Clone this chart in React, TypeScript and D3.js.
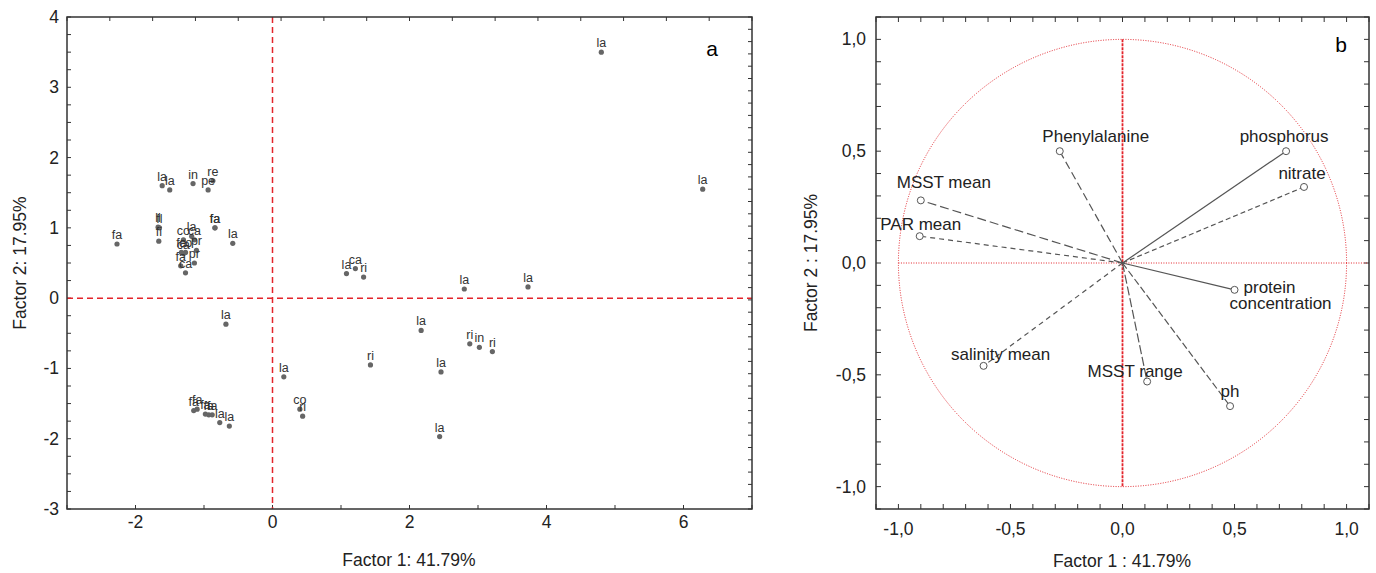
import React, { useEffect, useRef } from "react";
import * as d3 from "d3";

// panel a: case scores
const caseLabels = ["la","la","in","pe","re","li","fl","fi","fa","fa","fa","la",
  "la","co","ca","co","fa","ca","pr","pr","fa","ca",
  "la","la","co","ri","fa","fa","fa","fa","fa","la","la",
  "la","ca","ri","la","la","la","ri","in","ri","ri","la","la","la","la"];
const caseX = [-1.61,-1.50,-1.16,-0.94,-0.87,-1.67,-1.65,-1.66,-2.27,-0.84,-0.84,-0.58,
  -1.18,-1.30,-1.14,-1.27,-1.33,-1.30,-1.11,-1.14,-1.34,-1.27,
  -0.68,0.165,0.40,0.44,-1.15,-1.10,-0.98,-0.93,-0.88,-0.77,-0.63,
  1.08,1.21,1.33,2.80,3.73,2.17,2.88,3.02,3.21,1.43,2.46,2.44,4.80,6.28];
const caseY = [1.60,1.54,1.63,1.54,1.67,1.01,1.00,0.81,0.77,1.00,1.00,0.78,
  0.88,0.83,0.83,0.65,0.65,0.63,0.68,0.50,0.46,0.36,
  -0.37,-1.12,-1.58,-1.68,-1.60,-1.58,-1.65,-1.66,-1.66,-1.77,-1.82,
  0.35,0.42,0.30,0.13,0.16,-0.46,-0.65,-0.70,-0.76,-0.95,-1.05,-1.97,3.50,1.55];

// panel b: variable loadings
const varNames = ["Phenylalanine","phosphorus","nitrate","MSST mean","PAR mean",
  "protein\nconcentration","salinity mean","MSST range","ph"];
const varX = [-0.28,0.73,0.81,-0.90,-0.905,0.50,-0.62,0.11,0.48];
const varY = [0.50,0.50,0.34,0.28,0.12,-0.12,-0.46,-0.53,-0.64];

const xTicksA = [-2,0,2,4,6];
const yTicksA = [-3,-2,-1,0,1,2,3,4];
const ticksB = [-1,-0.5,0,0.5,1];

// label placement / line style for panel b (pixels)
const varLabelPos = [[39,-9],[1,-9],[1,-8],[26,-12],[4,-6],[38,3],[20,-6],[-9,-5],[3,-9]];
const varDash = ["8,4","","5,3","9,4","5,4","","5,4","9,3","7,3"];

const FONT = "'Liberation Sans', Arial, sans-serif";
const RED = "#e3242b";

export default function App() {
  const ref = useRef<SVGSVGElement>(null);

  useEffect(() => {
    const svg = d3.select(ref.current);
    svg.selectAll("*").remove();

    // ---------- panel a ----------
    const x = d3.scaleLinear().domain([-3, 7]).range([67, 752]);
    const y = d3.scaleLinear().domain([-3, 4]).range([509, 17]);
    const ga = svg.append("g");

    // ticks (inward)
    const tick = (g, x1, y1, x2, y2) =>
      g.append("line").attr("x1", x1).attr("y1", y1).attr("x2", x2).attr("y2", y2)
        .attr("stroke", "#333").attr("stroke-width", 1);
    d3.range(-3, 4.001, 0.25).forEach(v => tick(ga, 67, y(v), 71, y(v)));
    d3.range(-3, 7.001, 1).forEach(v => tick(ga, x(v), 509, x(v), 505));
    d3.range(0, 17).forEach(i => { const px = 67 + i * (685 / 16); tick(ga, px, 17, px, 21); });
    d3.range(0, 41).forEach(i => { const py = 17 + i * (492 / 40); tick(ga, 752, py, 748, py); });

    ga.append("line").attr("x1", x(0)).attr("x2", x(0)).attr("y1", 17).attr("y2", 509)
      .attr("stroke", RED).attr("stroke-width", 1.5).attr("stroke-dasharray", "6,4");
    ga.append("line").attr("x1", 67).attr("x2", 752).attr("y1", y(0)).attr("y2", y(0))
      .attr("stroke", RED).attr("stroke-width", 1.5).attr("stroke-dasharray", "6,4");

    ga.append("rect").attr("x", 67).attr("y", 17).attr("width", 685).attr("height", 492)
      .attr("fill", "none").attr("stroke", "#333").attr("stroke-width", 1.5);

    ga.selectAll(".xl").data(xTicksA).join("text")
      .attr("x", d => x(d)).attr("y", 528).attr("text-anchor", "middle")
      .attr("font-size", 17.5).attr("font-family", FONT).attr("fill", "#222")
      .text(d => String(d));
    ga.selectAll(".yl").data(yTicksA).join("text")
      .attr("x", 59).attr("y", d => y(d) + 6).attr("text-anchor", "end")
      .attr("font-size", 17.5).attr("font-family", FONT).attr("fill", "#222")
      .text(d => String(d));

    ga.selectAll("circle").data(caseX).join("circle")
      .attr("cx", d => x(d)).attr("cy", (d, i) => y(caseY[i])).attr("r", 2.6)
      .attr("fill", "#666");
    ga.selectAll(".pl").data(caseLabels).join("text")
      .attr("x", (d, i) => x(caseX[i])).attr("y", (d, i) => y(caseY[i]) - 5)
      .attr("text-anchor", "middle").attr("font-size", 12.5).attr("font-family", FONT)
      .attr("fill", "#333").text(d => d);

    ga.append("text").attr("x", 712).attr("y", 56).attr("text-anchor", "middle")
      .attr("font-size", 21).attr("font-family", FONT).text("a");

    ga.append("text").attr("x", 409).attr("y", 566).attr("text-anchor", "middle")
      .attr("font-size", 17.5).attr("font-family", FONT).attr("fill", "#222")
      .text("Factor 1: 41.79%");
    ga.append("text").attr("transform", "rotate(-90)").attr("x", -263).attr("y", 26)
      .attr("text-anchor", "middle").attr("font-size", 17.5).attr("font-family", FONT)
      .attr("fill", "#222").text("Factor 2: 17.95%");

    // ---------- panel b ----------
    const bx = d3.scaleLinear().domain([-1.1, 1.1]).range([876, 1369]);
    const by = d3.scaleLinear().domain([-1.1, 1.1]).range([509, 17]);
    const gb = svg.append("g");

    d3.range(-11, 12).forEach(k => {
      const v = k / 10;
      tick(gb, bx(v), 509, bx(v), 504);
      tick(gb, bx(v), 17, bx(v), 22);
      tick(gb, 876, by(v), 881, by(v));
      tick(gb, 1369, by(v), 1364, by(v));
    });

    const r = bx(1) - bx(0);
    gb.append("ellipse").attr("cx", bx(0)).attr("cy", by(0)).attr("rx", r).attr("ry", by(0) - by(1))
      .attr("fill", "none").attr("stroke", RED).attr("stroke-width", 1).attr("stroke-dasharray", "1,1.5");
    gb.append("line").attr("x1", bx(-1)).attr("x2", bx(1.1)).attr("y1", by(0)).attr("y2", by(0))
      .attr("stroke", RED).attr("stroke-width", 1).attr("stroke-dasharray", "1,1.5");
    gb.append("line").attr("x1", bx(0)).attr("x2", bx(0)).attr("y1", by(1)).attr("y2", by(-1))
      .attr("stroke", RED).attr("stroke-width", 1.8).attr("stroke-dasharray", "3,1");

    gb.append("rect").attr("x", 876).attr("y", 17).attr("width", 493).attr("height", 492)
      .attr("fill", "none").attr("stroke", "#333").attr("stroke-width", 1.5);

    const fmt = (d: number) => d.toFixed(1).replace(".", ",");
    gb.selectAll(".xl").data(ticksB).join("text")
      .attr("x", d => bx(d)).attr("y", 535).attr("text-anchor", "middle")
      .attr("font-size", 17.5).attr("font-family", FONT).attr("fill", "#222").text(fmt);
    gb.selectAll(".yl").data(ticksB).join("text")
      .attr("x", 866).attr("y", d => by(d) + 6).attr("text-anchor", "end")
      .attr("font-size", 17.5).attr("font-family", FONT).attr("fill", "#222").text(fmt);

    gb.selectAll(".vec").data(varX).join("line")
      .attr("x1", bx(0)).attr("y1", by(0))
      .attr("x2", d => bx(d)).attr("y2", (d, i) => by(varY[i]))
      .attr("stroke", "#555").attr("stroke-width", 1.2)
      .attr("stroke-dasharray", (d, i) => varDash[i]);
    gb.selectAll(".mk").data(varX).join("circle")
      .attr("cx", d => bx(d)).attr("cy", (d, i) => by(varY[i])).attr("r", 3.5)
      .attr("fill", "white").attr("stroke", "#555").attr("stroke-width", 1);

    varNames.forEach((name, i) => {
      const [dx, dy] = varLabelPos[i];
      const t = gb.append("text").attr("x", bx(varX[i]) + dx).attr("y", by(varY[i]) + dy)
        .attr("text-anchor", "middle").attr("font-size", 17).attr("font-family", FONT)
        .attr("fill", "#222");
      name.split("\n").forEach((line, j) => {
        t.append("tspan").attr("x", bx(varX[i]) + dx + (j ? 8 : -3)).attr("dy", j ? 16 : 0).text(line);
      });
    });

    gb.append("text").attr("x", 1341).attr("y", 52).attr("text-anchor", "middle")
      .attr("font-size", 21).attr("font-family", FONT).text("b");

    gb.append("text").attr("x", 1122).attr("y", 567).attr("text-anchor", "middle")
      .attr("font-size", 17.5).attr("font-family", FONT).attr("fill", "#222")
      .text("Factor 1 : 41.79%");
    gb.append("text").attr("transform", "rotate(-90)").attr("x", -263).attr("y", 817)
      .attr("text-anchor", "middle").attr("font-size", 17.5).attr("font-family", FONT)
      .attr("fill", "#222").text("Factor 2 : 17.95%");
  }, []);

  return (
    <svg ref={ref} width={1376} height={573}
      style={{ position: "absolute", left: 0, top: 0, background: "white" }} />
  );
}
